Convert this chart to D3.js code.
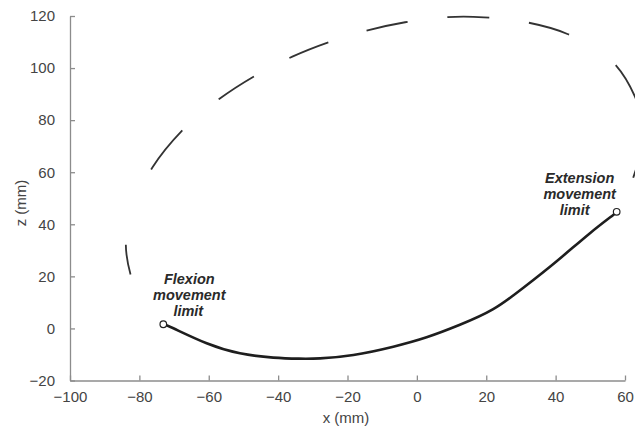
<!DOCTYPE html>
<html>
<head>
<meta charset="utf-8">
<script src="https://cdn.jsdelivr.net/npm/d3@7"></script>
<style>
  body { margin: 0; background: #fff; }
  .axis path, .axis line { stroke: #8c8c8c; stroke-width: 1.3; }
  .axis text { fill: #444; font-family: "Liberation Sans", Arial, sans-serif; font-size: 15px; }
  .axis-title { fill: #444; font-family: "Liberation Sans", Arial, sans-serif; font-size: 15px; }
  .note { fill: #2a2a2a; font-family: "Liberation Sans", Arial, sans-serif; font-size: 14.5px; font-weight: bold; font-style: italic; }
</style>
</head>
<body>
<div id="chart"></div>
<script>
// axis ticks
var xTicks = [-100, -80, -60, -40, -20, 0, 20, 40, 60];
var zTicks = [-20, 0, 20, 40, 60, 80, 100, 120];

// performed movement (solid)
var moveX = [-73.1, -70.2, -60.6, -51.0, -41.4, -34.0, -27.9, -18.3, -6.8, 2.8, 12.4, 22.0, 30.7, 40.3, 49.9, 56.6, 57.6];
var moveZ = [1.6, 0.05, -5.7, -9.55, -11.2, -11.6, -11.5, -10.2, -7.0, -3.4, 1.4, 7.4, 15.6, 25.8, 36.6, 43.6, 44.8];

// rest of the trajectory (dashed), from extension limit round to flexion limit
var pathX = [57.6, 60.5, 62.3, 65.5, 62.9, 56.2, 43.4, 31.2, 19.3, 7.9, -3.4, -14.5, -25.5, -35.9, -46.7, -57.0, -67.0, -76.3, -80.5, -83.0, -83.9, -82.5, -80.0, -77.0, -73.1];
var pathZ = [44.8, 51.5, 57.6, 75.0, 88.9, 102.7, 113.1, 117.7, 119.5, 119.5, 117.6, 114.4, 109.9, 104.4, 97.0, 88.1, 76.9, 61.7, 50.0, 40.0, 32.0, 20.5, 12.0, 6.0, 1.6];

// movement limits
var limitNames = ["Flexion", "Extension"];
var limitX = [-73.1, 57.6];
var limitZ = [1.6, 44.8];

var svgWidth = 635;
var svgHeight = 430;
var margin = { top: 16, right: 10, bottom: 49.5, left: 70 };

var svg = d3.select('#chart')
  .append('svg')
  .attr('width', svgWidth)
  .attr('height', svgHeight);

var x = d3.scaleLinear().domain([-100, 60]).range([margin.left, 625]);
var y = d3.scaleLinear().domain([-20, 120]).range([svgHeight - margin.bottom, margin.top]);

// axes with inward ticks
svg.append('g')
  .attr('class', 'axis')
  .attr('transform', `translate(0, ${y(-20)})`)
  .call(d3.axisBottom(x).tickValues(xTicks).tickSize(-5).tickSizeOuter(0).tickPadding(11));

svg.append('g')
  .attr('class', 'axis')
  .attr('transform', `translate(${x(-100)}, 0)`)
  .call(d3.axisLeft(y).tickValues(zTicks).tickSize(-5).tickSizeOuter(0).tickPadding(15));

svg.append('text')
  .attr('class', 'axis-title')
  .attr('x', 346)
  .attr('y', 423)
  .attr('text-anchor', 'middle')
  .text('x (mm)');

svg.append('text')
  .attr('class', 'axis-title')
  .attr('transform', 'translate(26, 203) rotate(-90)')
  .attr('text-anchor', 'middle')
  .text('z (mm)');

// dashed trajectory
var dashLine = d3.line()
  .x(d => x(d[0]))
  .y(d => y(d[1]))
  .curve(d3.curveCatmullRom);

svg.append('path')
  .datum(d3.zip(pathX, pathZ))
  .attr('d', dashLine)
  .attr('fill', 'none')
  .attr('stroke', '#333')
  .attr('stroke-width', 1.8)
  .attr('stroke-dasharray', '0 38 42 29 50 56 42 40 42 40 42 40 42 40 42 48 50 80 30 200');

// solid movement
var moveLine = d3.line()
  .x(d => x(d[0]))
  .y(d => y(d[1]))
  .curve(d3.curveNatural);

svg.append('path')
  .datum(d3.zip(moveX, moveZ))
  .attr('d', moveLine)
  .attr('fill', 'none')
  .attr('stroke', '#1e1e1e')
  .attr('stroke-width', 2.6);

// limit markers
svg.selectAll('circle.limit')
  .data(d3.zip(limitX, limitZ))
  .enter()
  .append('circle')
  .attr('class', 'limit')
  .attr('cx', d => x(d[0]))
  .attr('cy', d => y(d[1]))
  .attr('r', 3.3)
  .attr('fill', '#fff')
  .attr('stroke', '#222')
  .attr('stroke-width', 1.2);

// annotations
var noteOffsets = [[26, -40, -1], [-37, -29, -5]];
limitNames.forEach(function(name, i) {
  var cx = x(limitX[i]) + noteOffsets[i][0];
  var t = svg.append('text')
    .attr('class', 'note')
    .attr('text-anchor', 'middle')
    .attr('x', cx)
    .attr('y', y(limitZ[i]) + noteOffsets[i][1]);
  [name, 'movement', 'limit'].forEach(function(s, j) {
    t.append('tspan')
      .attr('x', cx + (j === 2 ? noteOffsets[i][2] : 0))
      .attr('dy', j === 0 ? 0 : 16)
      .text(s);
  });
});
</script>
</body>
</html>
